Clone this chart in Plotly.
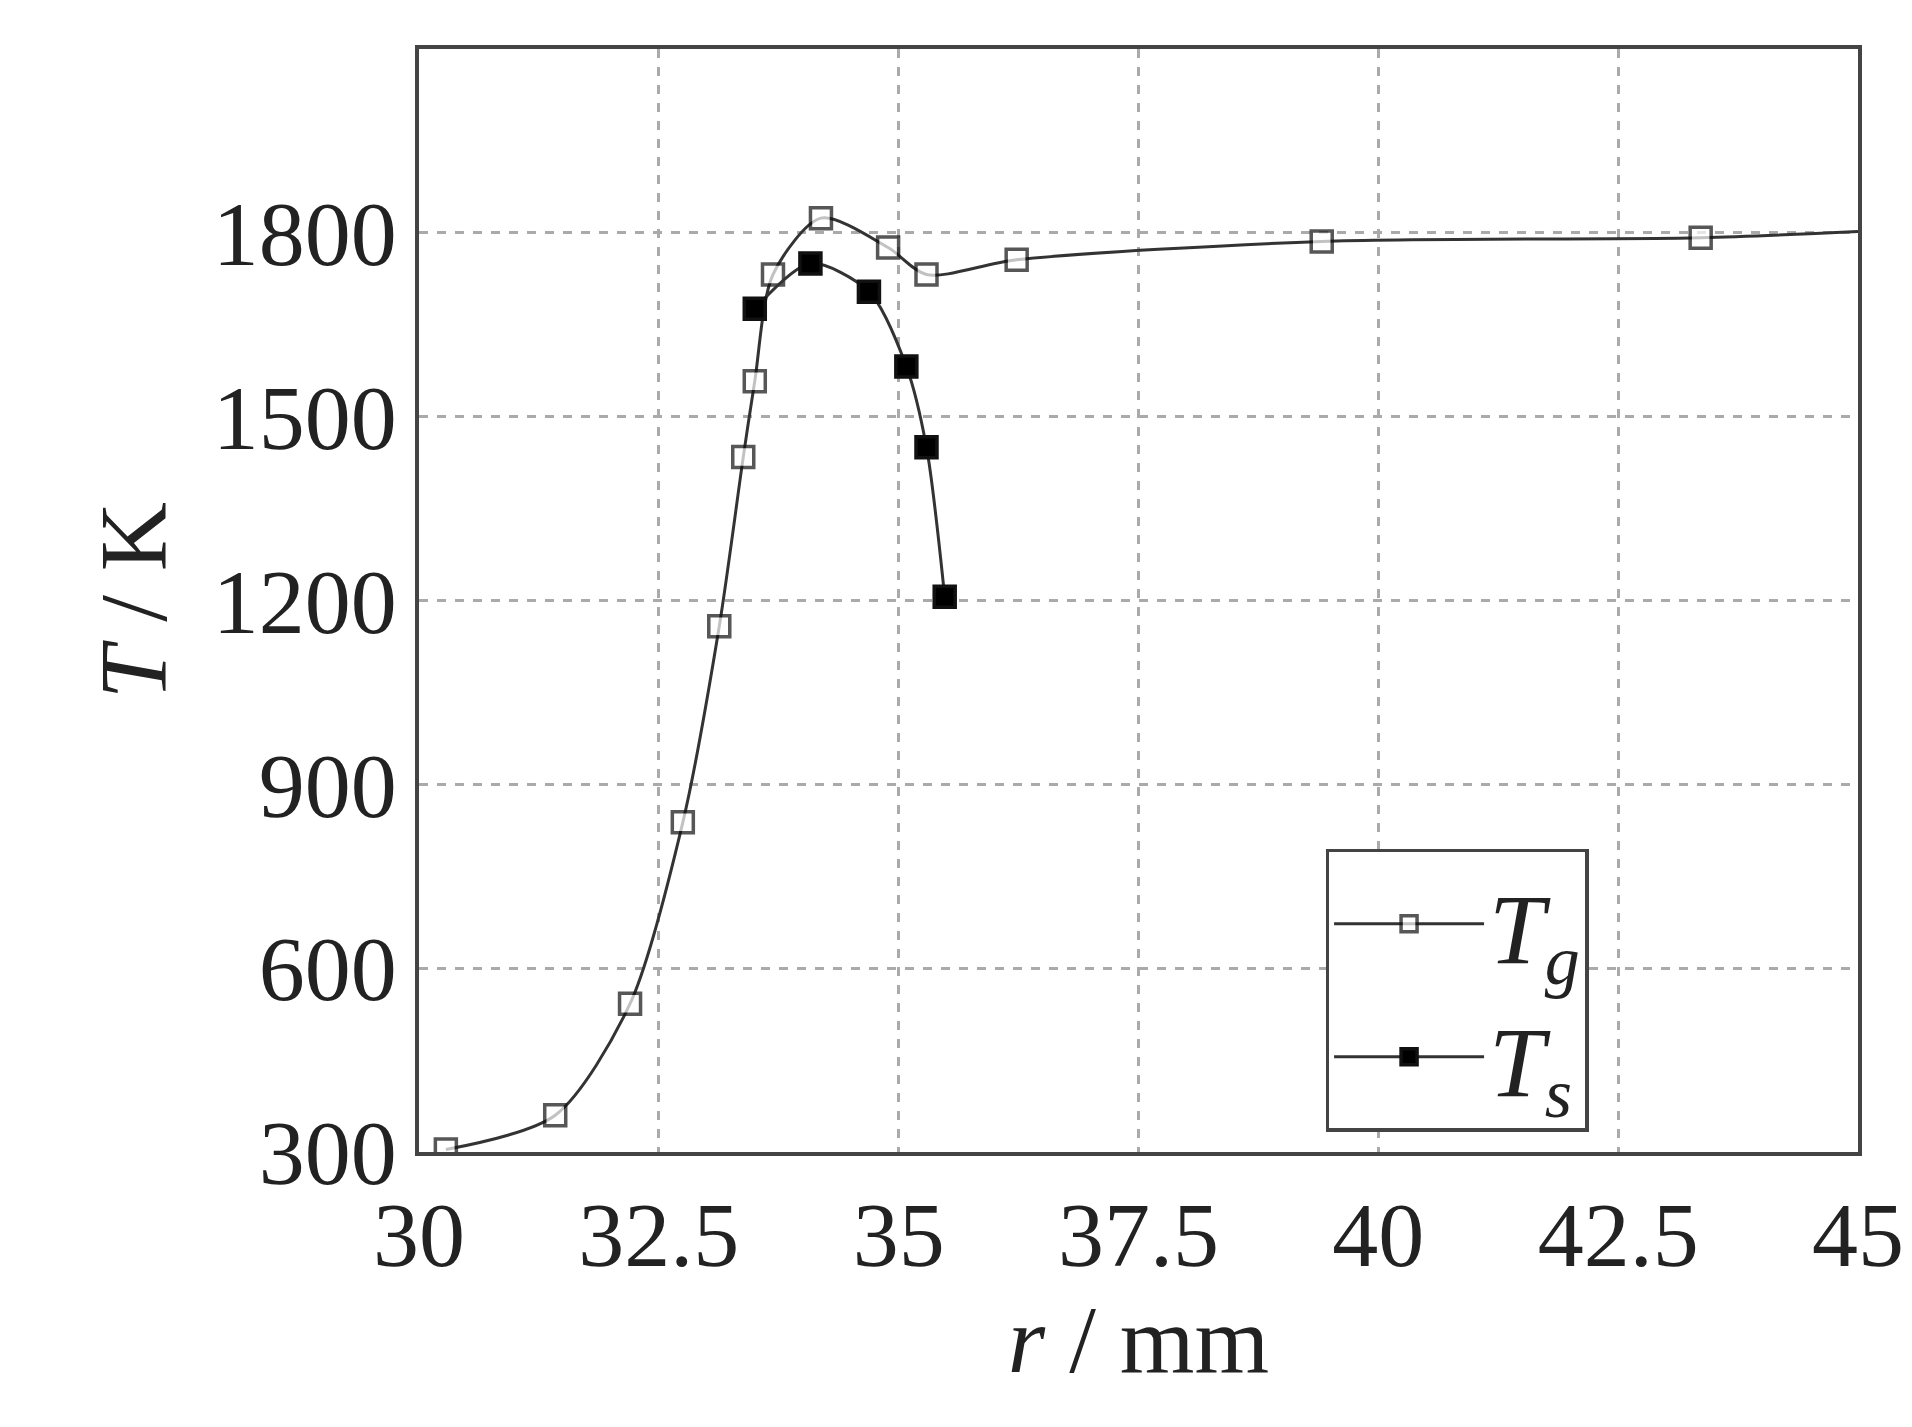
import plotly.graph_objects as go

tg_r = [30.28, 31.42, 32.2, 32.75, 33.13, 33.38, 33.5, 33.69, 34.19, 34.89, 35.29, 36.23, 39.41, 43.36, 45.0]
tg_T = [304, 360, 542, 838, 1158, 1434, 1558, 1732, 1824, 1776, 1732, 1756, 1786, 1792, 1802]
ts_r = [33.5, 34.08, 34.69, 35.08, 35.29, 35.48]
ts_T = [1676, 1750, 1704, 1582, 1450, 1206]
x_ticks = [30, 32.5, 35, 37.5, 40, 42.5, 45]
x_labels = ["30", "32.5", "35", "37.5", "40", "42.5", "45"]
y_ticks = [300, 600, 900, 1200, 1500, 1800, 2100]

serif = "Liberation Serif"
fig = go.Figure()
fig.add_trace(go.Scatter(
    x=tg_r, y=tg_T, mode="lines+markers", name="<i>T</i><sub><i>g</i></sub>",
    line=dict(color="#333", width=3, shape="spline", smoothing=0.8),
    marker=dict(symbol="square", size=[21] * (len(tg_r) - 1) + [0], color="white",
                line=dict(color="#111", width=3.5))))
fig.add_trace(go.Scatter(
    x=ts_r, y=ts_T, mode="lines+markers", name="<i>T</i><sub><i>s</i></sub>",
    line=dict(color="#333", width=3, shape="spline", smoothing=0.8),
    marker=dict(symbol="square", size=21, color="black",
                line=dict(color="#111", width=3.5))))

axis_common = dict(showline=True, mirror=True, linecolor="#444", linewidth=3.5,
                   showgrid=True, gridcolor="#aaa", griddash="dash", gridwidth=2.5,
                   zeroline=False, ticks="", tickfont=dict(family=serif, size=92, color="#222"))
fig.update_xaxes(range=[30, 45], tickvals=x_ticks, ticktext=x_labels,
                 title=dict(text="<i>r</i> / mm", font=dict(family=serif, size=96, color="#222"), standoff=15),
                 **axis_common)
fig.update_yaxes(range=[300, 2100], tickvals=y_ticks,
                 title=dict(text="<i>T</i> / K", font=dict(family=serif, size=96, color="#222"), standoff=15),
                 **axis_common)
fig.update_layout(
    width=1912, height=1427, plot_bgcolor="white", paper_bgcolor="white",
    margin=dict(l=411, r=62, t=41, b=283),
    showlegend=True,
    legend=dict(x=0.63, y=0.275, xanchor="left", yanchor="top", bgcolor="white",
                bordercolor="#444", borderwidth=3.5, itemwidth=150,
                font=dict(family=serif, size=100, color="#222"), tracegroupgap=15),
)
fig.write_html("out.html")
